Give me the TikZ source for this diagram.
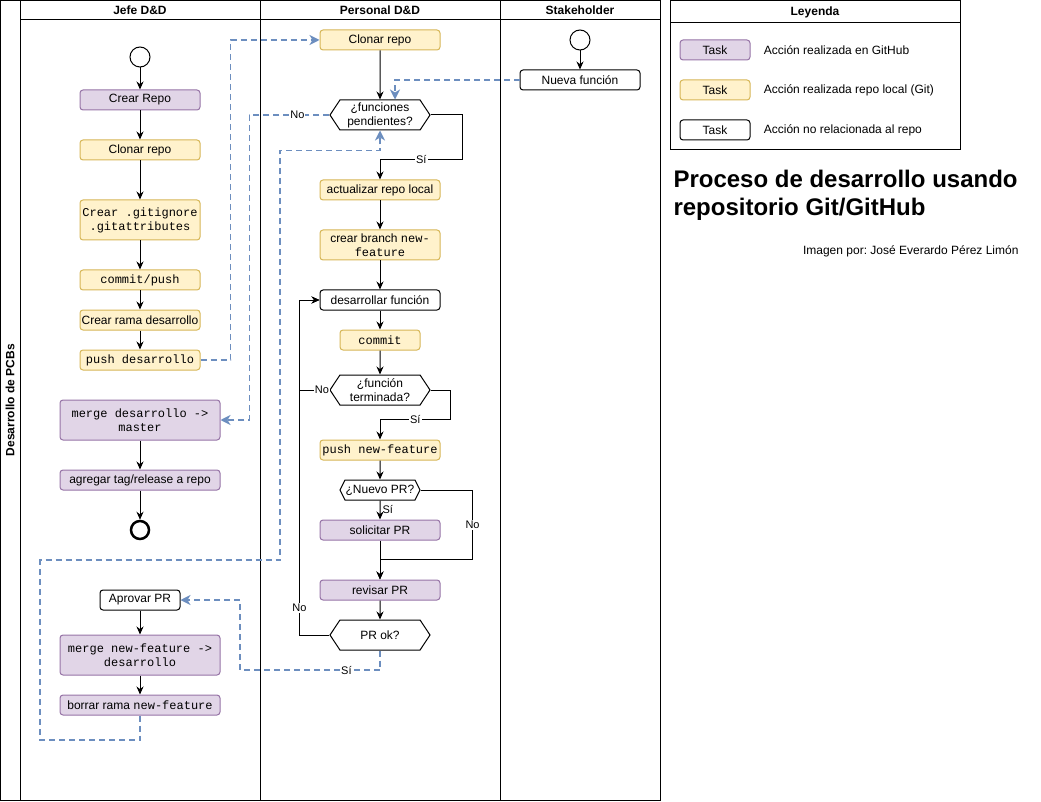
\documentclass[tikz,border=0pt]{standalone}
\usepackage{fontspec}
\setmainfont{Liberation Sans}
\setmonofont{Liberation Mono}
\usetikzlibrary{arrows.meta,shapes.symbols,positioning,calc}
\definecolor{ghfill}{HTML}{E1D5E7}
\definecolor{ghdraw}{HTML}{9673A6}
\definecolor{gitfill}{HTML}{FFF2CC}
\definecolor{gitdraw}{HTML}{D6B656}
\definecolor{msg}{HTML}{6C8EBF}
\frenchspacing

\begin{document}
\begin{tikzpicture}[x=1pt,y=-1pt,line width=1pt,>={Stealth[length=8pt,width=7pt]},
  font=\fontsize{12}{14}\selectfont,
  task/.style={draw,rounded corners=3pt,minimum height=20pt,minimum width=120pt,inner sep=1pt,align=center},
  gh/.style={task,fill=ghfill,draw=ghdraw},
  git/.style={task,fill=gitfill,draw=gitdraw},
  other/.style={task,draw=black},
  mono/.style={font=\ttfamily\fontsize{12}{14}\selectfont},
  head/.style={font=\bfseries\fontsize{12}{14}\selectfont},
  decision/.style={draw,shape=signal,signal to=east and west,signal pointer angle=113,minimum width=100pt,minimum height=30pt,inner sep=0pt,align=center},
  start/.style={draw,circle,minimum size=20pt,inner sep=0pt},
  flow/.style={->},
  msgflow/.style={-{Stealth[length=10pt,width=10pt,inset=3pt]},draw=msg,dash pattern=on 6pt off 4pt,line width=1.6pt},
  lbl/.style={fill=white,inner sep=1pt,font=\fontsize{11}{13}\selectfont}]
\useasboundingbox (0,0) rectangle (1041,802);

% pool y carriles
\draw (0.5,0.5) rectangle (660,800);
\draw (20,0) -- (20,800) (260,0) -- (260,800) (500,0) -- (500,800) (20,20) -- (660,20);
\node[rotate=90,head] (pool) at (10,400) {Desarrollo de PCBs};
\node[head] (lane1) at (140,10) {Jefe D\&D};
\node[head] (lane2) at (380,10) {Personal D\&D};
\node[head] (lane3) at (580,10) {Stakeholder};

% Jefe D&D
\node[start] (start1) at (140,57) {};
\node[gh] (crearrepo) at (140,100) {Crear Repo};
\node[git] (clonar1) at (140,150) {Clonar repo};
\node[git,minimum height=40pt,mono] (gitignore) at (140,220) {Crear .gitignore\\.gitattributes};
\node[git,mono] (commitpush) at (140,280) {commit/push};
\node[git] (ramades) at (140,320) {Crear rama desarrollo};
\node[git,mono] (pushdes) at (140,360) {push desarrollo};
\node[gh,minimum width=160pt,minimum height=40pt,mono] (mergemaster) at (140,420) {merge desarrollo ->\\master};
\node[gh,minimum width=160pt] (tag) at (140,480) {agregar tag/release a repo};
\node[start,line width=2.5pt,minimum size=18pt] (end) at (140,530) {};
\node[other,minimum width=80pt] (aprovar) at (140,600) {Aprovar PR};
\node[gh,minimum width=160pt,minimum height=40pt,mono] (mergenf) at (140,655) {merge new-feature ->\\desarrollo};
\node[gh,minimum width=160pt] (borrar) at (140,705) {borrar rama \texttt{new-feature}};

\draw[flow] (start1) -- (crearrepo);
\draw[flow] (crearrepo) -- (clonar1);
\draw[flow] (clonar1) -- (gitignore);
\draw[flow] (gitignore) -- (commitpush);
\draw[flow] (commitpush) -- (ramades);
\draw[flow] (ramades) -- (pushdes);
\draw[flow] (mergemaster) -- (tag);
\draw[flow] (tag) -- (end);
\draw[flow] (aprovar) -- (mergenf);
\draw[flow] (mergenf) -- (borrar);

% Personal D&D
\node[git] (clonar2) at (380,40) {Clonar repo};
\node[decision] (pend) at (380,115) {¿funciones\\pendientes?};
\node[git] (actualizar) at (380,190) {actualizar repo local};
\node[git,minimum height=30pt] (branch) at (380,245) {crear branch \texttt{new-}\\\texttt{feature}};
\node[other] (desarrollar) at (380,300) {desarrollar función};
\node[git,minimum width=80pt,mono] (commit) at (380,340) {commit};
\node[decision] (term) at (380,390) {¿función\\terminada?};
\node[git,mono] (pushnf) at (380,450) {push new-feature};
\node[decision,minimum width=80pt,minimum height=20pt,signal pointer angle=127] (nuevopr) at (380,490) {¿Nuevo PR?};
\node[gh] (solicitar) at (380,530) {solicitar PR};
\node[gh] (revisar) at (380,590) {revisar PR};
\node[decision] (prok) at (380,635) {PR ok?};

\draw[flow] (clonar2) -- (pend);
\draw[flow] (pend.east) -- ++(32,0) |- node[lbl,pos=0.75] {Sí} ($(actualizar.north)+(0,-20)$) -- (actualizar);
\draw[flow] (actualizar) -- (branch);
\draw[flow] (branch) -- (desarrollar);
\draw[flow] (desarrollar) -- (commit);
\draw[flow] (commit) -- (term);
\draw[flow] (term.east) -- ++(20,0) |- node[lbl,pos=0.75] {Sí} ($(pushnf.north)+(0,-20)$) -- (pushnf);
\draw[flow] (term.west) -- ++(-30,0) node[lbl,pos=0.25] {No} |- (desarrollar.west);
\draw[flow] (pushnf) -- (nuevopr);
\draw[flow] (nuevopr) -- node[right,inner sep=2pt,font=\fontsize{11}{13}\selectfont] {Sí} (solicitar);
\draw[flow] (nuevopr.east) -- ++(52,0) |- node[lbl,pos=0.25] {No} ($(revisar.north)+(0,-20)$) -- (revisar);
\draw[flow] (solicitar) -- (revisar);
\draw[flow] (revisar) -- (prok);
\draw[flow] (prok.west) -- ++(-30,0) |- node[lbl,pos=0.04] {No} (desarrollar.west);

% Stakeholder
\node[start] (start2) at (580,40) {};
\node[other] (nueva) at (580,80) {Nueva función};
\draw[flow] (start2) -- (nueva);

% mensajes entre carriles
\draw[msgflow] (pushdes.east) -- ++(30,0) |- (clonar2.west);
\draw[msgflow] (nueva.west) -| ($(pend.north)+(15,0)$);
\draw[msgflow] (pend.west) -- ++(-80,0) node[lbl,pos=0.4,text=black] {No} |- (mergemaster.east);
\draw[msgflow] (borrar.south) |- (40,740) |- (280,560) |- ($(pend.south)+(0,20)$) -- (pend.south);
\draw[msgflow] (prok.south) |- node[lbl,pos=0.62,text=black] {Sí} (240,670) |- (aprovar.east);

% leyenda
\draw (670,0.5) rectangle (960,150);
\draw (670,23) -- (960,23);
\node[head] (leyenda) at (815,12) {Leyenda};
\node[gh,minimum width=70pt] (leg1) at (715,50) {Task};
\node[git,minimum width=70pt] (leg2) at (715,90) {Task};
\node[other,minimum width=70pt] (leg3) at (715,130) {Task};
\node[anchor=west] (txt1) at (760,50) {Acción realizada en GitHub};
\node[anchor=west] (txt2) at (760,90) {Acción realizada repo local (Git)};
\node[anchor=west] (txt3) at (760,130) {Acción no relacionada al repo};

\node[anchor=north west,align=left,inner sep=0pt,font=\bfseries\fontsize{24}{28}\selectfont] (title) at (673,170) {Proceso de desarrollo usando\\repositorio Git/GitHub};
\node[anchor=east,inner sep=0pt,font=\fontsize{12}{14}\selectfont] (credit) at (1019,251) {Imagen por: José Everardo Pérez Limón};
\end{tikzpicture}
\end{document}
